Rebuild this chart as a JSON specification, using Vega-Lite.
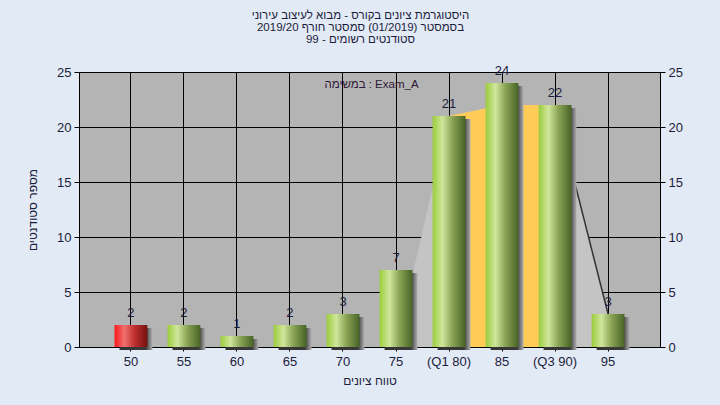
{
  "$schema": "https://vega.github.io/schema/vega-lite/v6.json",
  "width": 581,
  "height": 275,
  "autosize": "none",
  "padding": {"left": 79, "top": 72, "right": 60, "bottom": 58},
  "background": "#e2eaf5",
  "title": {
    "text": ["היסטוגרמת ציונים בקורס - מבוא לעיצוב עירוני", "בסמסטר  (01/2019)  סמסטר חורף 2019/20", "סטודנטים רשומים - 99"],
    "anchor": "middle",
    "fontSize": 11.5,
    "fontWeight": "normal",
    "font": "Liberation Sans",
    "color": "#1c1c3c",
    "lineHeight": 12,
    "offset": 20,
    "dx": -9
  },
  "config": {
    "view": {"fill": "#b4b4b4", "stroke": null},
    "font": "Liberation Sans",
    "axis": {
      "domainColor": "#000000",
      "tickColor": "#000000",
      "gridColor": "#000000",
      "gridOpacity": 1,
      "labelColor": "#1c1c3c",
      "labelFont": "Liberation Sans",
      "labelFontSize": 13,
      "titleFont": "Liberation Sans",
      "titleFontSize": 12,
      "titleFontWeight": "normal",
      "titleColor": "#1c1c3c"
    }
  },
  "datasets": {
    "counts": [
      {"score": "50", "count": 2},
      {"score": "55", "count": 2},
      {"score": "60", "count": 1},
      {"score": "65", "count": 2},
      {"score": "70", "count": 3},
      {"score": "75", "count": 7},
      {"score": "(Q1 80)", "count": 21},
      {"score": "85", "count": 24},
      {"score": "(Q3 90)", "count": 22},
      {"score": "95", "count": 3}
    ],
    "gray": [
      {"score": "75", "count": 0, "series": "במשימה : Exam_A"},
      {"score": "(Q1 80)", "count": 21, "series": "במשימה : Exam_A"},
      {"score": "85", "count": 22, "series": "במשימה : Exam_A"},
      {"score": "(Q3 90)", "count": 22, "series": "במשימה : Exam_A"},
      {"score": "95", "count": 3, "series": "במשימה : Exam_A"}
    ],
    "orange": [
      {"score": "(Q1 80)", "count": 21},
      {"score": "85", "count": 22},
      {"score": "(Q3 90)", "count": 22}
    ],
    "tail": [
      {"score": "(Q3 90)", "count": 22},
      {"score": "95", "count": 3}
    ]
  },
  "encoding": {
    "x": {
      "field": "score",
      "type": "nominal",
      "scale": {
        "type": "band",
        "domain": ["50", "55", "60", "65", "70", "75", "(Q1 80)", "85", "(Q3 90)", "95"],
        "paddingInner": 0,
        "paddingOuter": 0.48
      },
      "axis": {
        "title": "טווח ציונים",
        "labelAngle": 0,
        "bandPosition": 0.5,
        "grid": true,
        "tickSize": 4,
        "labelPadding": 4,
        "titlePadding": 7
      }
    }
  },
  "layer": [
    {
      "data": {"name": "gray"},
      "mark": {"type": "area", "interpolate": "linear"},
      "encoding": {
        "y": {
          "field": "count",
          "type": "quantitative",
          "scale": {"domain": [0, 25], "nice": false},
          "axis": {
            "orient": "left",
            "values": [0, 5, 10, 15, 20, 25],
            "grid": true,
            "tickSize": 5,
            "labelPadding": 3,
            "title": "מספר סטודנטים",
            "titlePadding": 17
          }
        },
        "color": {
          "field": "series",
          "type": "nominal",
          "scale": {"range": ["#c4c4c4"]},
          "legend": {
            "orient": "none",
            "legendX": 234,
            "legendY": 7,
            "title": null,
            "symbolOpacity": 0,
            "symbolStrokeWidth": 0,
            "symbolSize": 1,
            "labelFontSize": 11.5,
            "labelColor": "#301838",
            "labelFont": "Liberation Sans",
            "padding": 0,
            "labelOffset": 0
          }
        }
      }
    },
    {
      "data": {"name": "orange"},
      "mark": {"type": "area", "interpolate": "linear", "color": "#ffcc58"},
      "encoding": {
        "y": {"field": "count", "type": "quantitative", "axis": null}
      }
    },
    {
      "data": {"name": "tail"},
      "mark": {"type": "line", "color": "#333333", "strokeWidth": 1.5},
      "encoding": {
        "y": {"field": "count", "type": "quantitative", "axis": null}
      }
    },
    {
      "data": {"name": "counts"},
      "mark": {
        "type": "bar",
        "width": {"band": 0.62},
        "xOffset": 5,
        "yOffset": 3,
        "color": {
          "gradient": "linear", "x1": 0, "y1": 0, "x2": 1, "y2": 0,
          "stops": [
            {"offset": 0, "color": "#333333"},
            {"offset": 0.8, "color": "#3a3a3a"},
            {"offset": 1, "color": "#b0b0b0"}
          ]
        }
      },
      "encoding": {
        "y": {"field": "count", "type": "quantitative", "axis": null}
      }
    },
    {
      "data": {"name": "counts"},
      "transform": [{"filter": "datum.score != '50'"}],
      "mark": {
        "type": "bar",
        "width": {"band": 0.62},
        "color": {
          "gradient": "linear", "x1": 0, "y1": 0, "x2": 1, "y2": 0,
          "stops": [
            {"offset": 0, "color": "#9ccc3c"},
            {"offset": 0.3, "color": "#cfe69c"},
            {"offset": 0.6, "color": "#8aa455"},
            {"offset": 1, "color": "#486426"}
          ]
        }
      },
      "encoding": {
        "y": {"field": "count", "type": "quantitative", "axis": null}
      }
    },
    {
      "data": {"name": "counts"},
      "transform": [{"filter": "datum.score == '50'"}],
      "mark": {
        "type": "bar",
        "width": {"band": 0.62},
        "color": {
          "gradient": "linear", "x1": 0, "y1": 0, "x2": 1, "y2": 0,
          "stops": [
            {"offset": 0, "color": "#ff1a1a"},
            {"offset": 0.3, "color": "#f07070"},
            {"offset": 0.6, "color": "#c03030"},
            {"offset": 1, "color": "#761010"}
          ]
        }
      },
      "encoding": {
        "y": {"field": "count", "type": "quantitative", "axis": null}
      }
    },
    {
      "data": {"name": "counts"},
      "mark": {"type": "text", "baseline": "bottom", "dy": -5, "fontSize": 13, "color": "#1c1c3c", "font": "Liberation Sans"},
      "encoding": {
        "y": {
          "field": "count",
          "type": "quantitative",
          "axis": {
            "orient": "right",
            "values": [0, 5, 10, 15, 20, 25],
            "grid": false,
            "tickSize": 5,
            "labelPadding": 3,
            "title": null
          }
        },
        "text": {"field": "count", "type": "quantitative"}
      }
    }
  ],
  "resolve": {"scale": {"y": "shared"}, "axis": {"y": "independent"}}
}
